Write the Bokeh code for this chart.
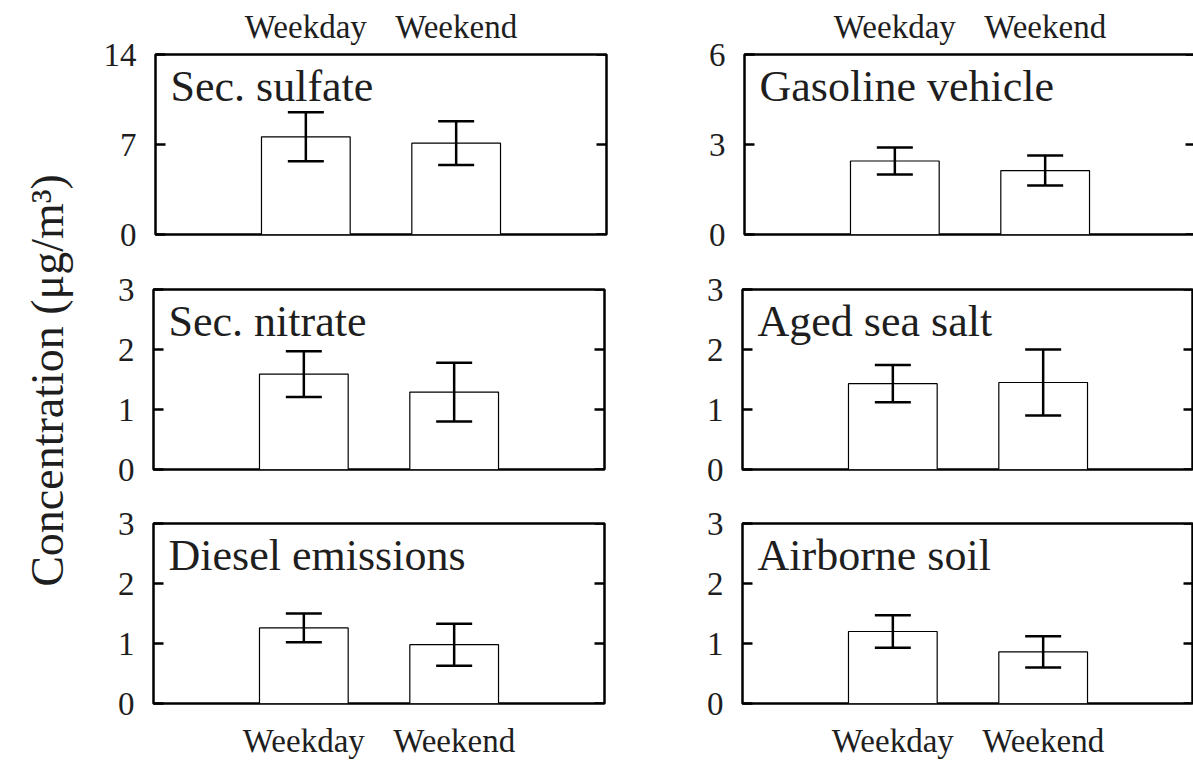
import math
from bokeh.plotting import figure
from bokeh.layouts import row, column
from bokeh.models import (Range1d, FixedTicker, LinearAxis, Whisker, TeeHead,
                          ColumnDataSource, Label)
from bokeh.embed import file_html
from bokeh.resources import INLINE

# ---- data ----
periods = ["Weekday", "Weekend"]
period_pos = [1, 2]
sources = ["Sec. sulfate", "Gasoline vehicle", "Sec. nitrate",
           "Aged sea salt", "Diesel emissions", "Airborne soil"]
mean_weekday = [7.6, 2.45, 1.59, 1.43, 1.26, 1.20]
mean_weekend = [7.1, 2.13, 1.29, 1.45, 0.98, 0.86]
err_weekday = [1.9, 0.45, 0.38, 0.31, 0.24, 0.27]
err_weekend = [1.7, 0.50, 0.49, 0.55, 0.35, 0.26]
y_max = [14, 6, 3, 3, 3, 3]
y_ticks = [[0, 7, 14], [0, 3, 6], [0, 1, 2, 3], [0, 1, 2, 3], [0, 1, 2, 3], [0, 1, 2, 3]]
y_title = "Concentration (\u03bcg/m\u00b3)"

FONT = "Liberation Serif"
TICK_SIZE = "33px"
TEXT_COLOR = "#1e1e1e"
FRAME_W, FRAME_H = 451, 180
X_END = 3.0
TICK_LEN = 10


def make_panel(i):
    r, c = divmod(i, 2)
    p = figure(
        frame_width=FRAME_W, frame_height=FRAME_H,
        min_border_left=53 if c == 0 else 72,
        min_border_right=66 if c == 0 else 0,
        min_border_top=[54, 28, 27][r],
        min_border_bottom=[27, 27, 60][r],
        x_range=Range1d(0, X_END), y_range=Range1d(0, y_max[i]),
        x_axis_location=None, y_axis_location=None,
        output_backend="svg", toolbar_location=None,
    )
    p.xgrid.grid_line_color = None
    p.ygrid.grid_line_color = None
    p.outline_line_color = "black"
    p.outline_line_width = 2.5
    p.background_fill_color = "white"
    p.border_fill_color = "white"

    # left axis with inward ticks
    la = LinearAxis(ticker=FixedTicker(ticks=y_ticks[i]))
    la.major_tick_in = TICK_LEN
    la.major_tick_out = 0
    la.minor_tick_line_color = None
    la.axis_line_color = None
    la.major_tick_line_width = 2.5
    la.major_tick_line_color = "black"
    la.major_label_text_font = FONT
    la.major_label_text_font_size = TICK_SIZE
    la.major_label_text_color = TEXT_COLOR
    la.major_label_standoff = 19
    p.add_layout(la, "left")

    # inward ticks on the right edge, at the same tick values
    x_tick0 = X_END - TICK_LEN * X_END / FRAME_W
    p.segment(x0=[x_tick0] * len(y_ticks[i]), x1=[X_END] * len(y_ticks[i]),
              y0=y_ticks[i], y1=y_ticks[i], line_color="black", line_width=2.5)

    # category labels (top row above, bottom row below)
    if r in (0, 2):
        xa = LinearAxis(ticker=FixedTicker(ticks=period_pos),
                        major_label_overrides={pp: lab for pp, lab in zip(period_pos, periods)})
        xa.major_tick_in = 0
        xa.major_tick_out = 0
        xa.minor_tick_line_color = None
        xa.axis_line_color = None
        xa.major_label_text_font = FONT
        xa.major_label_text_font_size = TICK_SIZE
        xa.major_label_text_color = TEXT_COLOR
        xa.major_label_standoff = 10 if r == 0 else 19
        p.add_layout(xa, "above" if r == 0 else "below")

    means = [mean_weekday[i], mean_weekend[i]]
    errs = [err_weekday[i], err_weekend[i]]
    src = ColumnDataSource(dict(
        x=period_pos, top=means,
        upper=[m + e for m, e in zip(means, errs)],
        lower=[m - e for m, e in zip(means, errs)],
    ))
    p.vbar(x="x", top="top", width=0.59, bottom=0, source=src,
           fill_color="white", line_color="black", line_width=1.2)
    w = Whisker(source=src, base="x", upper="upper", lower="lower",
                line_width=2.5, line_color="black", level="annotation",
                upper_head=TeeHead(size=36, line_width=2.5, line_color="black"),
                lower_head=TeeHead(size=36, line_width=2.5, line_color="black"))
    p.add_layout(w)

    p.add_layout(Label(x=0.1, y=y_max[i] * (1 - 32 / FRAME_H), text=sources[i],
                       text_font=FONT, text_font_size="44px",
                       text_color=TEXT_COLOR, text_baseline="alphabetic"))
    return p


panels = [make_panel(i) for i in range(6)]

# shared y-axis title in its own narrow strip
title_fig = figure(width=100, height=763, x_range=Range1d(0, 1), y_range=Range1d(0, 1),
                   min_border=0, x_axis_location=None, y_axis_location=None,
                   output_backend="svg", toolbar_location=None)
title_fig.xgrid.grid_line_color = None
title_fig.ygrid.grid_line_color = None
title_fig.outline_line_color = None
title_fig.border_fill_color = "white"
title_fig.add_layout(Label(x=0.47, y=1 - 380 / 763, text=y_title, angle=math.pi / 2,
                           text_font=FONT, text_font_size="46px", text_color=TEXT_COLOR,
                           text_align="center", text_baseline="middle"))

grid = column(row(panels[0], panels[1]),
              row(panels[2], panels[3]),
              row(panels[4], panels[5]))
layout = row(title_fig, grid)

open("out.html", "w").write(file_html(layout, INLINE))
